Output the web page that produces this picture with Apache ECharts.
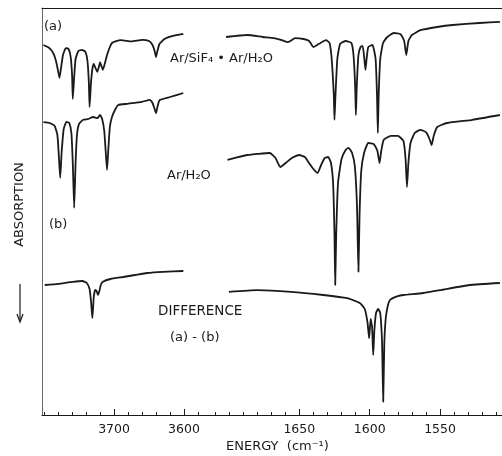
<!DOCTYPE html>
<html>
<head>
<meta charset="utf-8">
<script src="https://cdn.jsdelivr.net/npm/echarts@6/dist/echarts.min.js"></script>
<style>
  html, body { margin: 0; padding: 0; background: #fff; }
  #spectrum { width: 502px; height: 456px; }
</style>
</head>
<body>
<div id="spectrum"></div>
<script>
// OH-stretch region (cm-1), arbitrary absorption offset units
var specA_OH = [
  [3801, 92.5], [3793, 91.8], [3787, 90.5], [3783, 88.5], [3780, 86], [3778, 84.3], [3776, 86.5],
  [3773, 90], [3769, 91.7], [3765, 91.5], [3762, 89.5], [3760, 85], [3759, 79], [3757, 84.5],
  [3755, 89], [3751, 91], [3746, 91.3], [3741, 90.8], [3738, 88.5], [3736, 83], [3735, 77],
  [3733, 83], [3731, 86.5], [3729, 87.8], [3726, 86.5], [3724, 85.8], [3721, 87.5], [3720, 88.2],
  [3718, 87.2], [3716, 86.3], [3713, 88], [3710, 90], [3706, 92], [3703, 93], [3698, 93.4],
  [3690, 93.7], [3675, 93.4], [3660, 93.8], [3650, 93.5], [3645, 92.5], [3642, 91], [3640, 89.5],
  [3638, 91], [3635, 92.8], [3628, 94], [3616, 94.8], [3601, 95.3]
];
var specB_OH = [
  [3801, 73.2], [3792, 73], [3785, 72.3], [3781, 70], [3779, 65], [3777, 59.3], [3775, 65.5],
  [3772, 71.5], [3768, 73.3], [3764, 73], [3761, 70.5], [3759, 63], [3757, 51.8], [3755, 63],
  [3753, 70], [3750, 72.8], [3744, 73.8], [3737, 74], [3730, 74.5], [3724, 74.2], [3720, 75],
  [3717, 74], [3714, 71], [3712, 66], [3710, 61.3], [3708, 67], [3706, 72], [3703, 74.5],
  [3698, 76.5], [3694, 77.5], [3681, 77.8], [3660, 78.3], [3649, 78.8], [3645, 78], [3642, 76.5],
  [3640, 75.5], [3638, 77], [3635, 78.7], [3620, 79.5], [3601, 80.5]
];
var diff_OH = [
  [3799, 32.5], [3780, 32.8], [3759, 33.3], [3745, 33.5], [3739, 33], [3735, 31.5], [3733, 28.5],
  [3731, 24.2], [3729, 29.5], [3727, 31.3], [3725, 31], [3723, 30], [3721, 31], [3719, 32.5],
  [3716, 33.3], [3705, 34], [3687, 34.5], [3670, 35], [3653, 35.5], [3630, 35.8], [3601, 36]
];

// bending region (cm-1)
var specA_bend = [
  [1702, 94.5], [1687, 95], [1676, 94.5], [1668, 94.2], [1663, 93.8], [1658, 93.2], [1653, 94.2],
  [1647, 94], [1643, 93.5], [1640, 92], [1636, 92.8], [1631, 93.7], [1628.5, 93], [1627, 89],
  [1625.5, 80], [1625, 73.8], [1624.3, 80], [1623, 89], [1621, 92.8], [1617, 93.5], [1613, 93],
  [1611.5, 90], [1610.3, 82], [1609.8, 75], [1609.2, 82], [1608, 90], [1606.5, 92], [1605, 92.3],
  [1603.8, 89], [1603, 86.3], [1602.2, 89], [1601, 92], [1598, 92.5], [1595.8, 89], [1594.8, 80],
  [1594.2, 70.5], [1593.6, 80], [1592.5, 89], [1590.5, 93], [1587.5, 94.5], [1583, 95.5],
  [1578, 95.2], [1575.5, 93.5], [1574, 90], [1572.5, 93.5], [1570, 95], [1564, 96.2], [1552, 97],
  [1541, 97.5], [1522, 98], [1507.5, 98.3]
];
var specB_bend = [
  [1701, 63.8], [1687, 65], [1671, 65.5], [1667, 64.3], [1663.5, 62], [1659, 63.2], [1655, 64.3],
  [1650, 65], [1646, 64.5], [1643.5, 63.2], [1640, 61.5], [1637, 60.5], [1634.5, 62.5], [1632, 64.2],
  [1629.5, 64.5], [1627.5, 63], [1626, 58], [1625, 45], [1624.5, 32.5], [1623.8, 45], [1622.5, 58],
  [1620, 64], [1617, 66.3], [1615, 66.8], [1612.5, 65.5], [1610.5, 62], [1609, 52], [1608, 35.8],
  [1607.2, 50], [1606, 61], [1604, 65.5], [1601, 68], [1597, 67.7], [1594.5, 66], [1593, 63],
  [1591.8, 66], [1590, 68.8], [1585, 69.8], [1580, 69.8], [1576, 68.5], [1574.5, 64], [1573.5, 57],
  [1572.5, 63], [1571, 68], [1568, 70.5], [1564, 71.3], [1560, 70.7], [1557.5, 69], [1556, 67.5],
  [1554.5, 69.8], [1552, 72], [1545, 73], [1527, 73.8], [1507.5, 75]
];
var diff_bend = [
  [1700, 30.8], [1680, 31.2], [1656, 30.8], [1633, 30], [1616, 29.2], [1607, 28], [1603.5, 26.5],
  [1601.5, 23], [1600.4, 19.2], [1599.3, 24], [1598.3, 22], [1597.5, 15], [1596.7, 21], [1595.5, 25.5],
  [1594, 26.5], [1592.5, 25.5], [1591.2, 18], [1590.4, 3.3], [1589.6, 18], [1588.5, 24.5], [1587, 27.5],
  [1585.5, 28.8], [1580, 29.7], [1576, 30], [1562, 30.5], [1550, 31.2], [1529, 32.5], [1507.5, 33]
];

// tick labels
var leftLabels = [3700, 3600];
var rightLabels = [1650, 1600, 1550];
var leftMinor = [];
for (var v = 3800; v >= 3580; v -= 20) leftMinor.push(v);
var rightMinor = [];
for (var w = 1710; w >= 1510; w -= 10) rightMinor.push(w);

var ink = "#1a1a1a";
var font = "DejaVu Sans";

function mainAxis(grid, min, max, labels) {
  return {
    type: "value", gridIndex: grid, inverse: true, min: min, max: max, position: "bottom",
    axisLine: { show: true, lineStyle: { color: ink, width: 1 } },
    axisTick: { show: true, inside: true, length: 6, customValues: labels, lineStyle: { color: ink } },
    axisLabel: {
      show: true, customValues: labels, margin: 8, color: ink, fontSize: 12.5, fontFamily: font,
      formatter: function (val) { return String(val); }
    },
    splitLine: { show: false }
  };
}
function minorAxis(grid, min, max, ticks) {
  return {
    type: "value", gridIndex: grid, inverse: true, min: min, max: max, position: "bottom",
    axisLine: { show: false },
    axisTick: { show: true, inside: true, length: 3, customValues: ticks, lineStyle: { color: ink } },
    axisLabel: { show: false },
    splitLine: { show: false }
  };
}
function topAxis(grid, min, max) {
  return {
    type: "value", gridIndex: grid, inverse: true, min: min, max: max, position: "top",
    axisLine: { show: true, lineStyle: { color: ink, width: 1 } },
    axisTick: { show: false }, axisLabel: { show: false }, splitLine: { show: false }
  };
}
function trace(data, xi, yi) {
  return {
    type: "line", data: data, xAxisIndex: xi, yAxisIndex: yi,
    symbol: "none", smooth: 0.15, silent: true,
    lineStyle: { color: ink, width: 1.8 }
  };
}

var chart = echarts.init(document.getElementById("spectrum"));
var option = {
  backgroundColor: "#fff",
  animation: false,
  grid: [
    { left: 42, top: 8, width: 163, height: 407 },
    { left: 205, top: 8, width: 297, height: 407 }
  ],
  xAxis: [
    mainAxis(0, 3570, 3803, leftLabels),
    mainAxis(1, 1506, 1717, rightLabels),
    minorAxis(0, 3570, 3803, leftMinor),
    minorAxis(1, 1506, 1717, rightMinor),
    topAxis(0, 3570, 3803),
    topAxis(1, 1506, 1717)
  ],
  yAxis: [
    {
      type: "value", gridIndex: 0, min: 0, max: 101.75,
      name: "ABSORPTION", nameLocation: "middle", nameRotate: 90, nameGap: 16,
      nameTextStyle: { color: ink, fontSize: 13, fontFamily: font, padding: [0, 0, 0, 14] },
      axisLine: { show: true, lineStyle: { color: "#666", width: 1 } },
      axisTick: { show: false }, axisLabel: { show: false }, splitLine: { show: false }
    },
    {
      type: "value", gridIndex: 1, min: 0, max: 101.75, show: false
    }
  ],
  graphic: [
    { type: "line", shape: { x1: 20, y1: 284, x2: 20, y2: 321 }, style: { stroke: ink, lineWidth: 1.2 } },
    { type: "polyline", shape: { points: [[17, 314], [20, 322], [23, 314]] }, style: { stroke: ink, fill: null, lineWidth: 1.2 } },
    { type: "text", left: 44, top: 20, style: { text: "(a)", fill: ink, fontSize: 13, fontFamily: font } },
    { type: "text", left: 170, top: 52, style: { text: "Ar/SiF₄ • Ar/H₂O", fill: ink, fontSize: 13, fontFamily: font } },
    { type: "text", left: 167, top: 169, style: { text: "Ar/H₂O", fill: ink, fontSize: 13, fontFamily: font } },
    { type: "text", left: 49, top: 218, style: { text: "(b)", fill: ink, fontSize: 13, fontFamily: font } },
    { type: "text", left: 158, top: 304, style: { text: "DIFFERENCE", fill: ink, fontSize: 13.5, fontFamily: font } },
    { type: "text", left: 170, top: 331, style: { text: "(a) - (b)", fill: ink, fontSize: 13, fontFamily: font } },
    { type: "text", left: 226, top: 440, style: { text: "ENERGY  (cm⁻¹)", fill: ink, fontSize: 13, fontFamily: font } }
  ],
  series: [
    trace(specA_OH, 0, 0),
    trace(specB_OH, 0, 0),
    trace(diff_OH, 0, 0),
    trace(specA_bend, 1, 1),
    trace(specB_bend, 1, 1),
    trace(diff_bend, 1, 1)
  ]
};
chart.setOption(option);
</script>
</body>
</html>
